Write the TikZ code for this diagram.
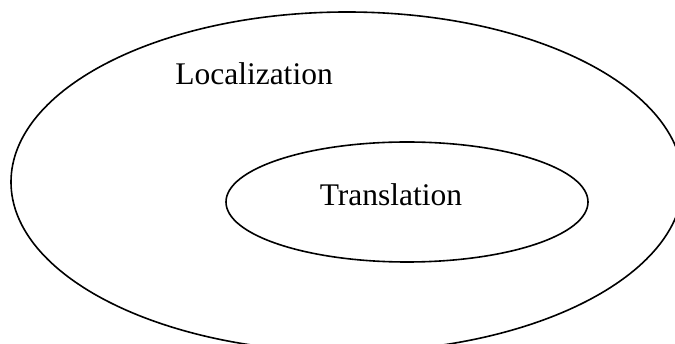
\documentclass[tikz,border=0pt]{standalone}
\usepackage{fontspec}
\setmainfont{Liberation Serif}
\usetikzlibrary{shapes.geometric}
\begin{document}
\begin{tikzpicture}[x=1pt,y=-1pt,
  ring/.style={draw=black, line width=1.6pt, ellipse, inner sep=0pt},
  label/.style={font=\fontsize{31.5}{36}\selectfont, inner sep=0pt, anchor=base}]
\clip (0,0) rectangle (675,344);
\useasboundingbox (0,0) rectangle (675,344);
\node[ring, minimum width=672pt, minimum height=340pt] (outer) at (347,182) {};
\node[ring, minimum width=362pt, minimum height=120pt] (inner) at (407,202) {};
\node[label] (loc) at (254,85) {Localization};
\node[label] (tr) at (391,206) {Translation};
\end{tikzpicture}
\end{document}
